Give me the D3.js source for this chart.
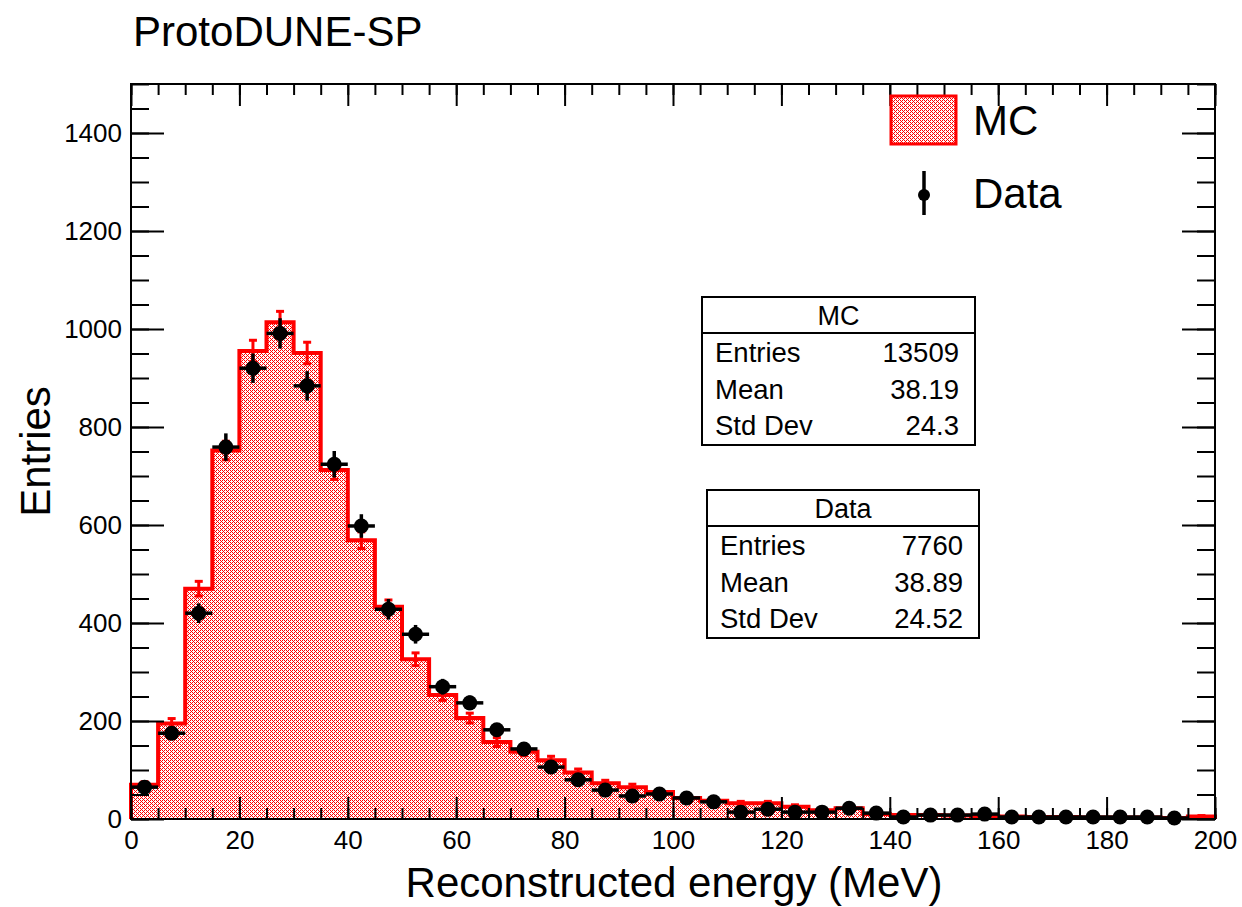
<!DOCTYPE html>
<html>
<head>
<meta charset="utf-8">
<script src="https://cdn.jsdelivr.net/npm/d3@7/dist/d3.min.js"></script>
<style>
  body { margin: 0; background: #fff; }
  text { font-family: "Liberation Sans", Arial, Helvetica, sans-serif; fill: #000; }
</style>
</head>
<body>
<svg id="grafico" width="1242" height="907"></svg>
<script>
// bin lower edges (MeV), 5 MeV bins
const binLow = [0,5,10,15,20,25,30,35,40,45,50,55,60,65,70,75,80,85,90,95,
                100,105,110,115,120,125,130,135,140,145,150,155,160,165,170,175,180,185,190,195];
const binWidth = 5;

// MC (scaled) contents and errors
const mcVal = [70,195,470,752,955,1014,951,712,569,433,326,253,206,157,137,120,95,73,65,55,
               43,37,32,32,25,18,22,10,8,8,7,6,5,4,4,3,3,3,2,5];
const mcErr = [6,10,15,19,22,22,22,19,17,14,13,11,10,9,8,8,7,6,6,5,
               5,4,4,4,4,3,3,2,2,2,2,2,2,1,1,1,1,1,1,2];

// Data contents and errors
const dataVal = [65,175,420,759,920,991,884,724,598,428,377,270,237,182,143,106,80,59,47,51,
                 43,35,14,20,14,14,22,12,4,8,8,10,4,4,4,4,4,4,2,0];
const dataErr = [8,13,20,28,30,31,30,27,24,21,19,16,15,13,12,10,9,8,7,7,
                 7,6,4,4,4,4,5,3,2,3,3,3,2,2,2,2,2,2,1,0];

const xTicks = [0,20,40,60,80,100,120,140,160,180,200];
const yTicks = [0,200,400,600,800,1000,1200,1400];

const statsMC = [["Entries","13509"],["Mean","38.19"],["Std Dev","24.3"]];
const statsData = [["Entries","7760"],["Mean","38.89"],["Std Dev","24.52"]];

const svg = d3.select("#grafico");
const L = 131, R = 1215, T = 84, B = 819;

const x = d3.scaleLinear().domain([0, 200]).range([L, R]);
const y = d3.scaleLinear().domain([0, 1500]).range([B, T]);

// relleno de puntos rojos
const defs = svg.append("defs");
const pat = defs.append("pattern")
  .attr("id", "rayado")
  .attr("patternUnits", "userSpaceOnUse")
  .attr("width", 4).attr("height", 4);
pat.append("rect").attr("width", 4).attr("height", 4).attr("fill", "#fff");
[[0,0],[2,0],[1,1],[0,2],[2,2],[3,3]].forEach(p => {
  pat.append("rect").attr("x", p[0]).attr("y", p[1]).attr("width", 1).attr("height", 1)
    .attr("fill", "#ff0000").attr("shape-rendering", "crispEdges");
});

// histograma MC
const pts = [[binLow[0], 0]];
binLow.forEach((lo, i) => {
  pts.push([lo, mcVal[i]]);
  pts.push([lo + binWidth, mcVal[i]]);
});
pts.push([binLow[binLow.length - 1] + binWidth, 0]);

const line = d3.line().x(d => x(d[0])).y(d => y(d[1]));

svg.append("path")
  .attr("d", line(pts) + "Z")
  .attr("fill", "url(#rayado)")
  .attr("stroke", "none")
  .attr("shape-rendering", "crispEdges");

svg.append("path")
  .attr("d", line(pts))
  .attr("fill", "none")
  .attr("stroke", "#ff0000")
  .attr("stroke-width", 4);

// errores MC
const gMC = svg.append("g").attr("stroke", "#ff0000").attr("stroke-width", 3);
binLow.forEach((lo, i) => {
  const cx = x(lo + binWidth / 2);
  const y1 = y(mcVal[i] - mcErr[i]), y2 = y(mcVal[i] + mcErr[i]);
  gMC.append("line").attr("x1", cx).attr("x2", cx).attr("y1", y1).attr("y2", y2);
  gMC.append("line").attr("x1", cx - 4).attr("x2", cx + 4).attr("y1", y1).attr("y2", y1);
  gMC.append("line").attr("x1", cx - 4).attr("x2", cx + 4).attr("y1", y2).attr("y2", y2);
});

// datos
const datos = binLow.map((lo, i) => ({lo, v: dataVal[i], e: dataErr[i]})).filter(d => d.v > 0);
const gD = svg.append("g");
gD.selectAll("line.ex").data(datos).enter().append("line")
  .attr("x1", d => x(d.lo)).attr("x2", d => x(d.lo + binWidth))
  .attr("y1", d => y(d.v)).attr("y2", d => y(d.v))
  .attr("stroke", "#000").attr("stroke-width", 3.5);
gD.selectAll("line.ey").data(datos).enter().append("line")
  .attr("x1", d => x(d.lo + binWidth / 2)).attr("x2", d => x(d.lo + binWidth / 2))
  .attr("y1", d => y(d.v - d.e)).attr("y2", d => y(d.v + d.e))
  .attr("stroke", "#000").attr("stroke-width", 3.5);
gD.selectAll("circle").data(datos).enter().append("circle")
  .attr("cx", d => x(d.lo + binWidth / 2))
  .attr("cy", d => y(d.v))
  .attr("r", 7.5)
  .attr("fill", "#000");

// ejes
function estiloEje(g) {
  g.select(".domain").remove();
  g.selectAll(".tick line").attr("stroke", "#000").attr("stroke-width", 2);
  g.selectAll("text").attr("font-size", 26);
}

svg.append("g").attr("transform", `translate(0,${B})`)
  .call(d3.axisBottom(x).tickValues(x.ticks(40)).tickSize(-11).tickFormat(""))
  .call(estiloEje);
svg.append("g").attr("transform", `translate(0,${B})`)
  .call(d3.axisBottom(x).tickValues(xTicks).tickSize(-22).tickPadding(12).tickFormat(d3.format("d")))
  .call(estiloEje);
svg.append("g").attr("transform", `translate(0,${T})`)
  .call(d3.axisTop(x).tickValues(x.ticks(40)).tickSize(-11).tickFormat(""))
  .call(estiloEje);
svg.append("g").attr("transform", `translate(0,${T})`)
  .call(d3.axisTop(x).tickValues(xTicks).tickSize(-22).tickFormat(""))
  .call(estiloEje);

svg.append("g").attr("transform", `translate(${L},0)`)
  .call(d3.axisLeft(y).tickValues(y.ticks(30)).tickSize(-18).tickFormat(""))
  .call(estiloEje);
svg.append("g").attr("transform", `translate(${L},0)`)
  .call(d3.axisLeft(y).tickValues(yTicks).tickSize(-33).tickPadding(9).tickFormat(d3.format("d")))
  .call(estiloEje);
svg.append("g").attr("transform", `translate(${R},0)`)
  .call(d3.axisRight(y).tickValues(y.ticks(30)).tickSize(-18).tickFormat(""))
  .call(estiloEje);
svg.append("g").attr("transform", `translate(${R},0)`)
  .call(d3.axisRight(y).tickValues(yTicks).tickSize(-33).tickFormat(""))
  .call(estiloEje);

svg.append("rect")
  .attr("x", L).attr("y", T).attr("width", R - L).attr("height", B - T)
  .attr("fill", "none").attr("stroke", "#000").attr("stroke-width", 2);

// titulos
svg.append("text").attr("x", 133).attr("y", 46).attr("font-size", 42).text("ProtoDUNE-SP");
svg.append("text").attr("x", (L + R) / 2 + 1).attr("y", 897).attr("font-size", 42)
  .attr("text-anchor", "middle").text("Reconstructed energy (MeV)");
svg.append("text").attr("transform", `translate(50,${(T + B) / 2}) rotate(-90)`)
  .attr("font-size", 42).attr("text-anchor", "middle").text("Entries");

// leyenda
svg.append("rect").attr("x", 891).attr("y", 96).attr("width", 65).attr("height", 48)
  .attr("fill", "url(#rayado)").attr("stroke", "#ff0000").attr("stroke-width", 3);
svg.append("text").attr("x", 973).attr("y", 135).attr("font-size", 42).text("MC");
svg.append("line").attr("x1", 924).attr("x2", 924).attr("y1", 171).attr("y2", 215)
  .attr("stroke", "#000").attr("stroke-width", 3.5);
svg.append("circle").attr("cx", 924).attr("cy", 195).attr("r", 6).attr("fill", "#000");
svg.append("text").attr("x", 973).attr("y", 208).attr("font-size", 42).text("Data");

// cajas de estadisticas
function cajaStats(x0, y0, w, titulo, filas) {
  const g = svg.append("g");
  g.append("rect").attr("x", x0).attr("y", y0).attr("width", w).attr("height", 148)
    .attr("fill", "#fff").attr("stroke", "#000").attr("stroke-width", 2);
  g.append("line").attr("x1", x0).attr("x2", x0 + w).attr("y1", y0 + 36).attr("y2", y0 + 36)
    .attr("stroke", "#000").attr("stroke-width", 2);
  g.append("text").attr("x", x0 + w / 2).attr("y", y0 + 28).attr("font-size", 27)
    .attr("text-anchor", "middle").text(titulo);
  filas.forEach((f, i) => {
    const yy = y0 + 65 + i * 36.5;
    g.append("text").attr("x", x0 + 13).attr("y", yy).attr("font-size", 27.5).text(f[0]);
    g.append("text").attr("x", x0 + w - 16).attr("y", yy).attr("font-size", 27.5)
      .attr("text-anchor", "end").text(f[1]);
  });
}
cajaStats(702, 297, 273, "MC", statsMC);
cajaStats(707, 490, 272, "Data", statsData);
</script>
</body>
</html>
